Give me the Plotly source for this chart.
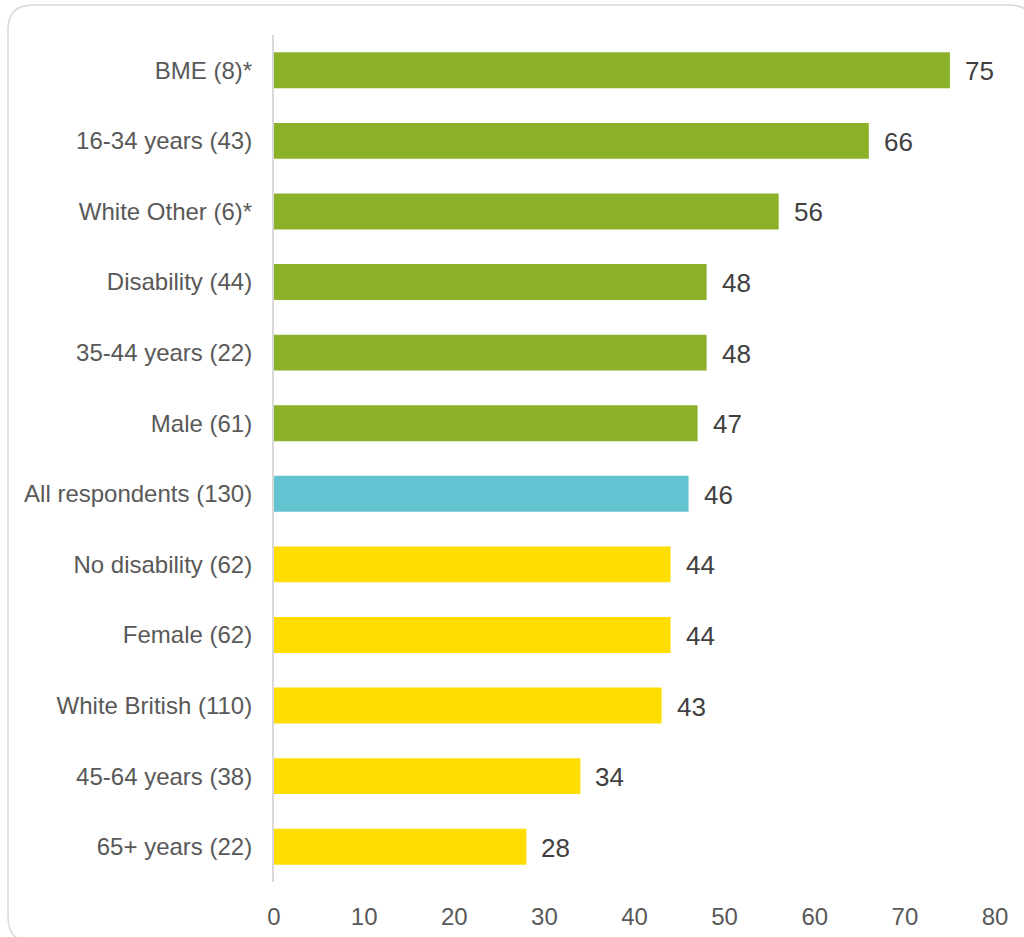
import plotly.graph_objects as go

# Survey groups (respondent counts in brackets) and their percentages
categories = [
    "BME (8)*", "16-34 years (43)", "White Other (6)*", "Disability (44)",
    "35-44 years (22)", "Male (61)", "All respondents (130)", "No disability (62)",
    "Female (62)", "White British (110)", "45-64 years (38)", "65+ years (22)",
]
values = [75, 66, 56, 48, 48, 47, 46, 44, 44, 43, 34, 28]
# "above", "all", "below" the all-respondents figure
groups = ["above", "above", "above", "above", "above", "above",
          "all", "below", "below", "below", "below", "below"]

palette = {"above": "#8AB128", "all": "#63C3D1", "below": "#FFDD00"}
bar_colors = [palette[g] for g in groups]

FONT = "Liberation Sans"

W, H = 1024, 937
L, R, T, B = 274, 29, 35, 55
plot_w, plot_h = W - L - R, H - T - B

fig = go.Figure(go.Bar(
    x=values, y=categories, orientation="h",
    marker=dict(color=bar_colors, line=dict(width=0)),
    hoverinfo="skip",
))

for cat, val in zip(categories, values):
    fig.add_annotation(
        x=val, y=cat, text=str(val), showarrow=False,
        xanchor="left", xshift=13, yshift=-1,
        font=dict(family=FONT, size=26, color="#404040"),
    )


def P(px, py):
    # pixel position -> paper coordinates of the plot area
    xx, yy = (px - L) / plot_w, (H - B - py) / plot_h
    return f"{xx:.5f},{yy:.5f}"


# Rounded frame around the whole chart
x0, y0, x1, y1, r = 8, 5, 1034, 942, 25
path = (
    f"M {P(x0 + r, y0)} L {P(x1 - r, y0)} Q {P(x1, y0)} {P(x1, y0 + r)} "
    f"L {P(x1, y1 - r)} Q {P(x1, y1)} {P(x1 - r, y1)} "
    f"L {P(x0 + r, y1)} Q {P(x0, y1)} {P(x0, y1 - r)} "
    f"L {P(x0, y0 + r)} Q {P(x0, y0)} {P(x0 + r, y0)} Z"
)
fig.add_shape(type="path", path=path, xref="paper", yref="paper",
              line=dict(color="#D9D9D9", width=1.5), layer="below")

fig.update_layout(
    width=W, height=H,
    margin=dict(l=L, r=R, t=T, b=B, autoexpand=False),
    paper_bgcolor="white", plot_bgcolor="white",
    bargap=0.49, showlegend=False,
    font=dict(family=FONT, color="#595959"),
)
fig.update_xaxes(
    range=[0, 80], dtick=10, tick0=0, showgrid=False, zeroline=False,
    showline=False, ticks="", ticklabelstandoff=18, automargin=False,
    tickfont=dict(family=FONT, size=24, color="#595959"), fixedrange=True,
)
fig.update_yaxes(
    categoryorder="array", categoryarray=categories, autorange="reversed",
    showgrid=False, zeroline=False, showline=True, linecolor="#D9D9D9",
    linewidth=2, ticks="", ticklabelstandoff=15, automargin=False,
    tickfont=dict(family=FONT, size=24, color="#595959"), fixedrange=True,
)

fig.write_html("out.html")
